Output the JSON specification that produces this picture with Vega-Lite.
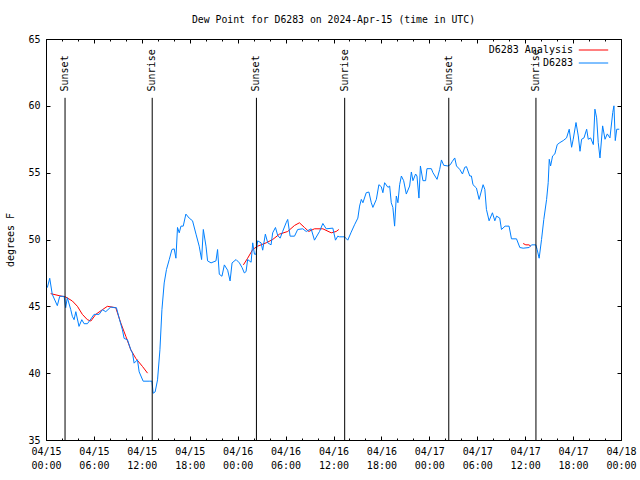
{
 "$schema": "https://vega.github.io/schema/vega-lite/v6.json",
 "width": 575, "height": 401,
 "autosize": {"type": "none"},
 "padding": {"left": 46, "top": 39, "right": 19, "bottom": 40},
 "title": {"text": "Dew Point for D6283 on 2024-Apr-15 (time in UTC)", "font": "DejaVu Sans Mono", "fontSize": 9.8, "fontWeight": "normal", "color": "black", "anchor": "middle", "offset": 9},
 "config": {
  "view": {"stroke": "black", "strokeWidth": 1},
  "axis": {"domain": false, "grid": false, "tickColor": "black", "labelColor": "black", "labelFont": "DejaVu Sans Mono", "labelFontSize": 10, "titleFont": "DejaVu Sans Mono", "titleFontSize": 10, "titleFontWeight": "normal", "titleColor": "black"}
 },
 "datasets": {
  "obs": [
   {"t":"2024-04-15T00:10:00Z","v":46.4},{"t":"2024-04-15T00:28:00Z","v":47.1},{"t":"2024-04-15T00:47:00Z","v":45.9},{"t":"2024-04-15T01:25:00Z","v":45.05},{"t":"2024-04-15T01:43:00Z","v":45.75},{"t":"2024-04-15T02:16:00Z","v":45.75},{"t":"2024-04-15T02:28:00Z","v":44.9},{"t":"2024-04-15T02:40:00Z","v":45.65},{"t":"2024-04-15T03:06:00Z","v":44.75},{"t":"2024-04-15T03:18:00Z","v":44.25},{"t":"2024-04-15T03:31:00Z","v":44.0},{"t":"2024-04-15T03:44:00Z","v":44.6},{"t":"2024-04-15T04:08:00Z","v":43.5},{"t":"2024-04-15T04:29:00Z","v":44.0},{"t":"2024-04-15T04:46:00Z","v":43.7},{"t":"2024-04-15T05:11:00Z","v":43.7},{"t":"2024-04-15T05:37:00Z","v":44.05},{"t":"2024-04-15T06:01:00Z","v":44.4},{"t":"2024-04-15T06:39:00Z","v":44.4},{"t":"2024-04-15T07:04:00Z","v":44.75},{"t":"2024-04-15T07:29:00Z","v":44.6},{"t":"2024-04-15T08:07:00Z","v":44.95},{"t":"2024-04-15T08:32:00Z","v":44.9},{"t":"2024-04-15T08:49:00Z","v":44.9},{"t":"2024-04-15T09:10:00Z","v":44.1},{"t":"2024-04-15T09:34:00Z","v":43.25},{"t":"2024-04-15T09:47:00Z","v":42.6},{"t":"2024-04-15T10:12:00Z","v":42.5},{"t":"2024-04-15T10:37:00Z","v":41.75},{"t":"2024-04-15T10:50:00Z","v":41.5},{"t":"2024-04-15T11:02:00Z","v":40.75},{"t":"2024-04-15T11:27:00Z","v":41.0},{"t":"2024-04-15T11:40:00Z","v":40.1},{"t":"2024-04-15T12:10:00Z","v":39.4},{"t":"2024-04-15T12:55:00Z","v":39.4},{"t":"2024-04-15T13:16:00Z","v":39.4},{"t":"2024-04-15T13:25:00Z","v":38.5},{"t":"2024-04-15T13:40:00Z","v":38.6},{"t":"2024-04-15T13:58:00Z","v":39.5},{"t":"2024-04-15T14:16:00Z","v":41.75},{"t":"2024-04-15T14:31:00Z","v":44.75},{"t":"2024-04-15T14:48:00Z","v":46.75},{"t":"2024-04-15T15:05:00Z","v":47.75},{"t":"2024-04-15T15:26:00Z","v":48.5},{"t":"2024-04-15T15:46:00Z","v":49.25},{"t":"2024-04-15T16:03:00Z","v":49.3},{"t":"2024-04-15T16:16:00Z","v":48.6},{"t":"2024-04-15T16:28:00Z","v":50.9},{"t":"2024-04-15T16:41:00Z","v":50.5},{"t":"2024-04-15T16:54:00Z","v":51.0},{"t":"2024-04-15T17:11:00Z","v":51.0},{"t":"2024-04-15T17:31:00Z","v":51.9},{"t":"2024-04-15T17:56:00Z","v":51.6},{"t":"2024-04-15T18:21:00Z","v":51.4},{"t":"2024-04-15T18:47:00Z","v":50.4},{"t":"2024-04-15T19:11:00Z","v":49.5},{"t":"2024-04-15T19:29:00Z","v":48.5},{"t":"2024-04-15T19:42:00Z","v":50.75},{"t":"2024-04-15T20:02:00Z","v":49.5},{"t":"2024-04-15T20:14:00Z","v":48.4},{"t":"2024-04-15T20:40:00Z","v":48.25},{"t":"2024-04-15T21:17:00Z","v":48.4},{"t":"2024-04-15T21:29:00Z","v":49.25},{"t":"2024-04-15T21:42:00Z","v":47.4},{"t":"2024-04-15T22:02:00Z","v":47.25},{"t":"2024-04-15T22:20:00Z","v":48.1},{"t":"2024-04-15T22:45:00Z","v":47.7},{"t":"2024-04-15T23:03:00Z","v":46.9},{"t":"2024-04-15T23:18:00Z","v":48.25},{"t":"2024-04-15T23:48:00Z","v":48.5},
   {"t":"2024-04-16T00:13:00Z","v":48.25},{"t":"2024-04-16T00:33:00Z","v":47.9},{"t":"2024-04-16T00:50:00Z","v":47.5},{"t":"2024-04-16T01:03:00Z","v":47.6},{"t":"2024-04-16T01:15:00Z","v":48.5},{"t":"2024-04-16T01:41:00Z","v":48.3},{"t":"2024-04-16T01:53:00Z","v":49.75},{"t":"2024-04-16T02:06:00Z","v":48.9},{"t":"2024-04-16T02:18:00Z","v":48.9},{"t":"2024-04-16T02:30:00Z","v":49.9},{"t":"2024-04-16T02:56:00Z","v":49.75},{"t":"2024-04-16T03:08:00Z","v":49.2},{"t":"2024-04-16T03:28:00Z","v":50.4},{"t":"2024-04-16T03:46:00Z","v":49.75},{"t":"2024-04-16T04:11:00Z","v":49.6},{"t":"2024-04-16T04:23:00Z","v":50.5},{"t":"2024-04-16T04:44:00Z","v":50.9},{"t":"2024-04-16T05:01:00Z","v":50.3},{"t":"2024-04-16T05:19:00Z","v":50.1},{"t":"2024-04-16T05:38:00Z","v":50.6},{"t":"2024-04-16T06:04:00Z","v":51.25},{"t":"2024-04-16T06:16:00Z","v":51.5},{"t":"2024-04-16T06:34:00Z","v":50.25},{"t":"2024-04-16T07:07:00Z","v":50.25},{"t":"2024-04-16T07:31:00Z","v":50.75},{"t":"2024-04-16T08:09:00Z","v":50.8},{"t":"2024-04-16T08:35:00Z","v":50.6},{"t":"2024-04-16T09:12:00Z","v":50.8},{"t":"2024-04-16T09:37:00Z","v":49.95},{"t":"2024-04-16T10:15:00Z","v":50.6},{"t":"2024-04-16T10:40:00Z","v":51.2},{"t":"2024-04-16T11:05:00Z","v":50.8},{"t":"2024-04-16T11:55:00Z","v":50.85},{"t":"2024-04-16T12:15:00Z","v":49.95},{"t":"2024-04-16T12:32:00Z","v":50.25},{"t":"2024-04-16T12:45:00Z","v":50.2},{"t":"2024-04-16T13:23:00Z","v":50.2},{"t":"2024-04-16T13:47:00Z","v":49.95},{"t":"2024-04-16T14:13:00Z","v":50.55},{"t":"2024-04-16T14:38:00Z","v":51.1},{"t":"2024-04-16T15:03:00Z","v":51.6},{"t":"2024-04-16T15:16:00Z","v":52.5},{"t":"2024-04-16T15:29:00Z","v":53.0},{"t":"2024-04-16T15:41:00Z","v":52.75},{"t":"2024-04-16T16:06:00Z","v":53.5},{"t":"2024-04-16T16:26:00Z","v":53.55},{"t":"2024-04-16T16:44:00Z","v":52.75},{"t":"2024-04-16T16:56:00Z","v":52.4},{"t":"2024-04-16T17:22:00Z","v":53.0},{"t":"2024-04-16T17:41:00Z","v":54.1},{"t":"2024-04-16T17:59:00Z","v":53.95},{"t":"2024-04-16T18:11:00Z","v":53.5},{"t":"2024-04-16T18:24:00Z","v":54.25},{"t":"2024-04-16T18:49:00Z","v":53.9},{"t":"2024-04-16T19:02:00Z","v":54.0},{"t":"2024-04-16T19:14:00Z","v":52.75},{"t":"2024-04-16T19:26:00Z","v":52.4},{"t":"2024-04-16T19:39:00Z","v":51.0},{"t":"2024-04-16T19:52:00Z","v":53.25},{"t":"2024-04-16T20:04:00Z","v":52.75},{"t":"2024-04-16T20:17:00Z","v":54.1},{"t":"2024-04-16T20:30:00Z","v":54.75},{"t":"2024-04-16T20:47:00Z","v":54.4},{"t":"2024-04-16T21:07:00Z","v":53.4},{"t":"2024-04-16T21:32:00Z","v":54.0},{"t":"2024-04-16T21:45:00Z","v":55.05},{"t":"2024-04-16T21:57:00Z","v":54.4},{"t":"2024-04-16T22:17:00Z","v":54.9},{"t":"2024-04-16T22:27:00Z","v":54.75},{"t":"2024-04-16T22:42:00Z","v":53.1},{"t":"2024-04-16T22:53:00Z","v":55.5},{"t":"2024-04-16T23:12:00Z","v":54.4},{"t":"2024-04-16T23:32:00Z","v":54.4},{"t":"2024-04-16T23:42:00Z","v":55.3},
   {"t":"2024-04-17T00:15:00Z","v":55.3},{"t":"2024-04-17T00:27:00Z","v":55.0},{"t":"2024-04-17T00:58:00Z","v":54.5},{"t":"2024-04-17T01:18:00Z","v":55.25},{"t":"2024-04-17T01:31:00Z","v":55.95},{"t":"2024-04-17T01:48:00Z","v":55.55},{"t":"2024-04-17T02:20:00Z","v":55.5},{"t":"2024-04-17T02:38:00Z","v":55.6},{"t":"2024-04-17T02:53:00Z","v":55.85},{"t":"2024-04-17T03:11:00Z","v":56.1},{"t":"2024-04-17T03:24:00Z","v":55.5},{"t":"2024-04-17T03:48:00Z","v":55.25},{"t":"2024-04-17T04:09:00Z","v":54.9},{"t":"2024-04-17T04:26:00Z","v":55.4},{"t":"2024-04-17T04:39:00Z","v":55.45},{"t":"2024-04-17T05:04:00Z","v":54.75},{"t":"2024-04-17T05:16:00Z","v":54.75},{"t":"2024-04-17T05:28:00Z","v":54.1},{"t":"2024-04-17T05:54:00Z","v":53.85},{"t":"2024-04-17T06:14:00Z","v":53.0},{"t":"2024-04-17T06:44:00Z","v":54.1},{"t":"2024-04-17T06:57:00Z","v":53.75},{"t":"2024-04-17T07:09:00Z","v":52.25},{"t":"2024-04-17T07:29:00Z","v":51.4},{"t":"2024-04-17T07:54:00Z","v":52.0},{"t":"2024-04-17T08:12:00Z","v":51.4},{"t":"2024-04-17T08:25:00Z","v":51.75},{"t":"2024-04-17T08:49:00Z","v":51.6},{"t":"2024-04-17T09:02:00Z","v":50.75},{"t":"2024-04-17T09:29:00Z","v":51.0},{"t":"2024-04-17T09:59:00Z","v":51.0},{"t":"2024-04-17T10:17:00Z","v":50.05},{"t":"2024-04-17T10:55:00Z","v":50.05},{"t":"2024-04-17T11:20:00Z","v":49.4},{"t":"2024-04-17T11:45:00Z","v":49.35},{"t":"2024-04-17T12:30:00Z","v":49.4},{"t":"2024-04-17T12:48:00Z","v":49.6},{"t":"2024-04-17T13:20:00Z","v":49.6},{"t":"2024-04-17T13:30:00Z","v":49.25},{"t":"2024-04-17T13:45:00Z","v":48.6},{"t":"2024-04-17T14:03:00Z","v":50.0},{"t":"2024-04-17T14:20:00Z","v":51.5},{"t":"2024-04-17T14:41:00Z","v":53.0},{"t":"2024-04-17T14:53:00Z","v":54.25},{"t":"2024-04-17T15:01:00Z","v":56.0},{"t":"2024-04-17T15:11:00Z","v":55.5},{"t":"2024-04-17T15:26:00Z","v":56.25},{"t":"2024-04-17T15:43:00Z","v":56.4},{"t":"2024-04-17T16:01:00Z","v":57.1},{"t":"2024-04-17T16:21:00Z","v":57.25},{"t":"2024-04-17T16:46:00Z","v":57.4},{"t":"2024-04-17T17:11:00Z","v":57.6},{"t":"2024-04-17T17:31:00Z","v":58.25},{"t":"2024-04-17T17:49:00Z","v":56.9},{"t":"2024-04-17T18:01:00Z","v":57.5},{"t":"2024-04-17T18:22:00Z","v":58.75},{"t":"2024-04-17T18:39:00Z","v":57.75},{"t":"2024-04-17T18:52:00Z","v":56.6},{"t":"2024-04-17T19:04:00Z","v":57.5},{"t":"2024-04-17T19:22:00Z","v":57.6},{"t":"2024-04-17T19:42:00Z","v":58.25},{"t":"2024-04-17T19:54:00Z","v":57.5},{"t":"2024-04-17T20:12:00Z","v":57.6},{"t":"2024-04-17T20:32:00Z","v":57.1},{"t":"2024-04-17T20:44:00Z","v":59.75},{"t":"2024-04-17T20:57:00Z","v":59.1},{"t":"2024-04-17T21:09:00Z","v":57.25},{"t":"2024-04-17T21:22:00Z","v":56.1},{"t":"2024-04-17T21:42:00Z","v":58.5},{"t":"2024-04-17T22:00:00Z","v":57.5},{"t":"2024-04-17T22:17:00Z","v":57.9},{"t":"2024-04-17T22:37:00Z","v":57.6},{"t":"2024-04-17T22:58:00Z","v":59.5},{"t":"2024-04-17T23:07:00Z","v":60.0},{"t":"2024-04-17T23:17:00Z","v":57.4},{"t":"2024-04-17T23:28:00Z","v":58.25},{"t":"2024-04-17T23:47:00Z","v":58.25}
  ],
  "ana": [
   {"t":"2024-04-15T00:35:00Z","v":45.95,"seg":1},{"t":"2024-04-15T01:38:00Z","v":45.8,"seg":1},{"t":"2024-04-15T02:28:00Z","v":45.7,"seg":1},{"t":"2024-04-15T03:18:00Z","v":45.4,"seg":1},{"t":"2024-04-15T03:56:00Z","v":45.0,"seg":1},{"t":"2024-04-15T04:33:00Z","v":44.4,"seg":1},{"t":"2024-04-15T05:11:00Z","v":44.0,"seg":1},{"t":"2024-04-15T05:37:00Z","v":43.9,"seg":1},{"t":"2024-04-15T06:14:00Z","v":44.4,"seg":1},{"t":"2024-04-15T07:04:00Z","v":44.75,"seg":1},{"t":"2024-04-15T07:41:00Z","v":45.0,"seg":1},{"t":"2024-04-15T08:44:00Z","v":44.9,"seg":1},{"t":"2024-04-15T09:22:00Z","v":43.75,"seg":1},{"t":"2024-04-15T10:00:00Z","v":42.75,"seg":1},{"t":"2024-04-15T10:37:00Z","v":41.75,"seg":1},{"t":"2024-04-15T11:15:00Z","v":41.1,"seg":1},{"t":"2024-04-15T12:05:00Z","v":40.5,"seg":1},{"t":"2024-04-15T12:43:00Z","v":40.0,"seg":1},
   {"t":"2024-04-16T00:43:00Z","v":48.1,"seg":2},{"t":"2024-04-16T01:15:00Z","v":48.6,"seg":2},{"t":"2024-04-16T01:53:00Z","v":49.25,"seg":2},{"t":"2024-04-16T02:30:00Z","v":49.5,"seg":2},{"t":"2024-04-16T03:34:00Z","v":49.75,"seg":2},{"t":"2024-04-16T04:23:00Z","v":50.0,"seg":2},{"t":"2024-04-16T05:14:00Z","v":50.4,"seg":2},{"t":"2024-04-16T06:16:00Z","v":50.6,"seg":2},{"t":"2024-04-16T07:07:00Z","v":51.05,"seg":2},{"t":"2024-04-16T07:44:00Z","v":51.25,"seg":2},{"t":"2024-04-16T08:22:00Z","v":50.9,"seg":2},{"t":"2024-04-16T08:54:00Z","v":50.6,"seg":2},{"t":"2024-04-16T09:37:00Z","v":50.8,"seg":2},{"t":"2024-04-16T10:40:00Z","v":50.8,"seg":2},{"t":"2024-04-16T11:43:00Z","v":50.5,"seg":2},{"t":"2024-04-16T12:20:00Z","v":50.6,"seg":2},{"t":"2024-04-16T12:40:00Z","v":50.75,"seg":2},
   {"t":"2024-04-17T11:45:00Z","v":49.7,"seg":3},{"t":"2024-04-17T12:05:00Z","v":49.6,"seg":3},{"t":"2024-04-17T12:28:00Z","v":49.6,"seg":3},{"t":"2024-04-17T12:43:00Z","v":49.5,"seg":3}
  ],
  "sun": [
   {"t":"2024-04-15T02:23:00Z","event":"Sunset"},{"t":"2024-04-15T13:18:00Z","event":"Sunrise"},
   {"t":"2024-04-16T02:21:00Z","event":"Sunset"},{"t":"2024-04-16T13:24:00Z","event":"Sunrise"},
   {"t":"2024-04-17T02:26:00Z","event":"Sunset"},{"t":"2024-04-17T13:21:00Z","event":"Sunrise"}
  ]
 },
 "layer": [
  {
   "data": {"name": "ana"},
   "mark": {"type": "line", "strokeWidth": 1, "interpolate": "linear"},
   "encoding": {
    "x": {"field": "t", "type": "temporal",
      "scale": {"type": "utc", "domain": [1713139200000, 1713398400000], "nice": false},
      "axis": {"orient": "bottom", "title": null, "values": [1713139200000,1713160800000,1713182400000,1713204000000,1713225600000,1713247200000,1713268800000,1713290400000,1713312000000,1713333600000,1713355200000,1713376800000,1713398400000], "tickSize": -4, "labelPadding": 10, "labelLineHeight": 14, "labelFlush": false, "labelOverlap": false, "labelBaseline": "top",
        "labelExpr": "[utcFormat(datum.value, '%m/%d'), utcFormat(datum.value, '%H:%M')]"}},
    "y": {"field": "v", "type": "quantitative",
      "scale": {"domain": [35, 65], "nice": false, "zero": false},
      "axis": {"orient": "left", "values": [35, 40, 45, 50, 55, 60, 65], "tickSize": -4, "labelPadding": 10, "title": "degrees F", "titlePadding": 12}},
    "detail": {"field": "seg", "type": "nominal"},
    "color": {"datum": "D6283 Analysis", "type": "nominal",
      "scale": {"domain": ["D6283 Analysis", "D6283"], "range": ["#ff0000", "#0080ff"]},
      "legend": {"orient": "none", "legendX": 540, "legendY": 3.5, "title": null, "symbolType": "M-2.1,0H2.1", "symbolSize": 196, "symbolStrokeWidth": 1, "labelAlign": "right", "labelOffset": -28, "labelFont": "DejaVu Sans Mono", "labelFontSize": 10, "labelColor": "black", "rowPadding": 0}}
   }
  },
  {
   "data": {"name": "obs"},
   "mark": {"type": "line", "strokeWidth": 1, "interpolate": "linear"},
   "encoding": {
    "x": {"field": "t", "type": "temporal",
      "axis": {"orient": "top", "title": null, "values": [1713139200000,1713160800000,1713182400000,1713204000000,1713225600000,1713247200000,1713268800000,1713290400000,1713312000000,1713333600000,1713355200000,1713376800000,1713398400000], "tickSize": -4, "labels": false}},
    "y": {"field": "v", "type": "quantitative",
      "axis": {"orient": "right", "values": [35, 40, 45, 50, 55, 60, 65], "tickSize": -4, "labels": false, "title": null}},
    "color": {"datum": "D6283", "type": "nominal"}
   }
  },
  {
   "data": {"name": "sun"},
   "mark": {"type": "rule", "color": "black", "strokeWidth": 1},
   "encoding": {
    "x": {"field": "t", "type": "temporal",
      "axis": {"orient": "bottom", "title": null, "values": [1713139200000,1713146400000,1713153600000,1713160800000,1713168000000,1713175200000,1713182400000,1713189600000,1713196800000,1713204000000,1713211200000,1713218400000,1713225600000,1713232800000,1713240000000,1713247200000,1713254400000,1713261600000,1713268800000,1713276000000,1713283200000,1713290400000,1713297600000,1713304800000,1713312000000,1713319200000,1713326400000,1713333600000,1713340800000,1713348000000,1713355200000,1713362400000,1713369600000,1713376800000,1713384000000,1713391200000,1713398400000], "tickSize": -2, "labels": false}},
    "y": {"datum": 60.6, "type": "quantitative", "axis": null},
    "y2": {"datum": 35}
   }
  },
  {
   "data": {"name": "sun"},
   "mark": {"type": "text", "angle": 270, "align": "left", "baseline": "middle", "font": "DejaVu Sans Mono", "fontSize": 10, "color": "black", "dx": 1},
   "encoding": {
    "x": {"field": "t", "type": "temporal",
      "axis": {"orient": "top", "title": null, "values": [1713139200000,1713146400000,1713153600000,1713160800000,1713168000000,1713175200000,1713182400000,1713189600000,1713196800000,1713204000000,1713211200000,1713218400000,1713225600000,1713232800000,1713240000000,1713247200000,1713254400000,1713261600000,1713268800000,1713276000000,1713283200000,1713290400000,1713297600000,1713304800000,1713312000000,1713319200000,1713326400000,1713333600000,1713340800000,1713348000000,1713355200000,1713362400000,1713369600000,1713376800000,1713384000000,1713391200000,1713398400000], "tickSize": -2, "labels": false}},
    "y": {"datum": 61.0, "type": "quantitative", "axis": null},
    "text": {"field": "event"}
   }
  }
 ],
 "resolve": {"axis": {"x": "independent", "y": "independent"}}
}
